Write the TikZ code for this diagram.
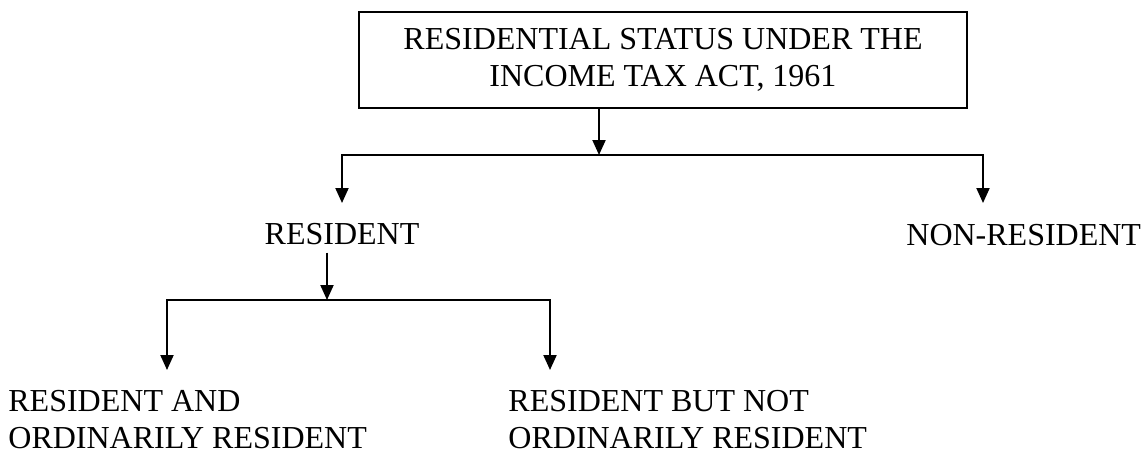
\documentclass[tikz,border=0pt]{standalone}
\usepackage{fontspec}
\setmainfont{Liberation Serif}
\usetikzlibrary{arrows.meta}

\tikzset{
  term/.style={inner sep=0pt,font=\fontsize{16}{18.5}\selectfont},
  link/.style={line width=1pt,-{Triangle[width=6.5pt,length=7.5pt]}},
}

\begin{document}
\begin{tikzpicture}[x=0.5pt,y=-0.5pt]
  \useasboundingbox (0,0) rectangle (1143,452);
  \node[term,draw,line width=1pt,align=center,minimum width=304pt,minimum height=48pt] (status) at (663,60) {RESIDENTIAL STATUS UNDER THE\\INCOME TAX ACT, 1961};
  \node[term,anchor=base] (res) at (342,244) {RESIDENT};
  \node[term,anchor=base west] (nonres) at (906,245) {NON-RESIDENT};
  \node[term,anchor=north west,align=left] (ror) at (8,390) {RESIDENT AND\\ORDINARILY RESIDENT};
  \node[term,anchor=north west,align=left] (rnor) at (508,390) {RESIDENT BUT NOT\\ORDINARILY RESIDENT};
  % junctions and arrow ends
  \coordinate (split) at (599,155);
  \coordinate (fork) at (327,300);
  \coordinate (res-in) at (342,203);
  \coordinate (nonres-in) at (983,203);
  \coordinate (ror-in) at (167,370);
  \coordinate (rnor-in) at (550,370);
  \draw[link] (status.south -| split) -- (split);
  \draw[link] (split) -| (res-in);
  \draw[link] (split) -| (nonres-in);
  \draw[link,shorten <=4pt] (res.south -| fork) -- (fork);
  \draw[link] (fork) -| (ror-in);
  \draw[link] (fork) -| (rnor-in);
\end{tikzpicture}
\end{document}
